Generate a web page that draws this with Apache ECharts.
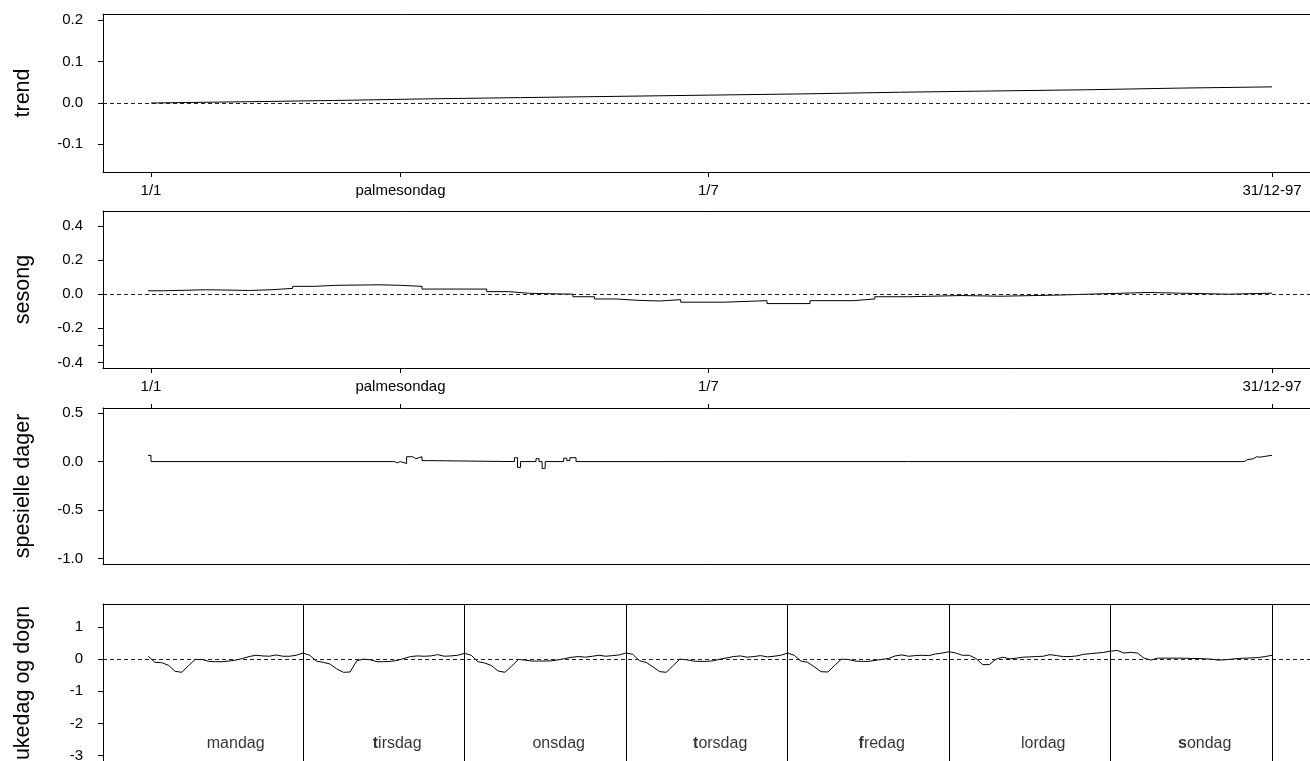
<!DOCTYPE html>
<html><head><meta charset="utf-8">
<script src="https://cdn.jsdelivr.net/npm/echarts@6/dist/echarts.min.js"></script>
<style>html,body{margin:0;padding:0;background:#fff}#c{width:1310px;height:761px}</style>
</head><body><div id="c"></div>
<script>
// ---------- data ----------
const yearTickDays = [1, 82, 182, 365];
const yearTickLabels = ['1/1', 'palmesondag', '1/7', '31/12-97'];

const trendDays   = [1, 32, 60, 91, 121, 152, 182, 213, 244, 274, 305, 335, 365];
const trendValues = [0.000, 0.003, 0.006, 0.010, 0.013, 0.016, 0.019, 0.022, 0.026, 0.029, 0.032, 0.036, 0.039];

const seasonDays   = [0, 5, 19, 33, 40, 47, 54, 61, 75, 82, 89, 110, 117, 124, 138, 145, 152, 159, 166, 173, 187, 201, 215, 229, 236, 247, 264, 277, 296, 309, 325, 335, 351, 365];
const seasonValues = [0.020, 0.026, 0.022, 0.026, 0.034, 0.046, 0.052, 0.055, 0.052, 0.046, 0.030, 0.015, 0.005, 0.000, -0.015, -0.028, -0.036, -0.040, -0.032, -0.047, -0.038, -0.055, -0.038, -0.028, -0.015, -0.008, -0.012, -0.005, 0.002, 0.010, 0.006, 0.000, 0.006, 0.010];

const specialDays   = [0, 1, 80, 81, 82, 84, 86, 87, 89, 91, 119, 120, 121, 126, 127, 128, 129, 135, 136, 137, 139, 355, 356, 357, 359, 360, 361, 362, 363, 364, 365];
const specialValues = [0.064, 0, -0.012, 0, -0.02, 0.05, 0.03, 0.05, 0.01, 0, 0.04, -0.06, 0, 0.03, 0, -0.07, 0, 0.035, 0.01, 0.04, 0, 0, 0.02, 0.03, 0.05, 0.045, 0.05, 0.055, 0.06, 0.065, 0.07];

const weekdayNames = ['mandag', 'tirsdag', 'onsdag', 'torsdag', 'fredag', 'lordag', 'sondag'];
const mondayValues    = [0.09, -0.10, -0.11, -0.19, -0.38, -0.41, -0.20, -0.01, -0.01, -0.07, -0.08, -0.08, -0.06, -0.03, 0.02, 0.08, 0.12, 0.10, 0.09, 0.13, 0.09, 0.09, 0.12, 0.19];
const tuesdayValues   = [0.12, -0.06, -0.10, -0.15, -0.30, -0.41, -0.40, -0.05, 0.00, -0.02, -0.08, -0.08, -0.07, -0.04, 0.02, 0.08, 0.10, 0.09, 0.10, 0.14, 0.09, 0.10, 0.12, 0.18];
const wednesdayValues = [0.12, -0.08, -0.12, -0.20, -0.37, -0.41, -0.22, -0.01, -0.03, -0.06, -0.06, -0.06, -0.05, -0.02, 0.02, 0.06, 0.08, 0.06, 0.09, 0.12, 0.09, 0.11, 0.13, 0.19];
const thursdayValues  = [0.15, -0.05, -0.10, -0.24, -0.39, -0.41, -0.20, 0.00, -0.02, -0.06, -0.07, -0.07, -0.05, 0.00, 0.04, 0.08, 0.10, 0.06, 0.08, 0.11, 0.07, 0.09, 0.12, 0.19];
const fridayValues    = [0.12, -0.06, -0.10, -0.24, -0.39, -0.40, -0.20, 0.00, -0.01, -0.06, -0.07, -0.07, -0.04, -0.01, 0.02, 0.10, 0.13, 0.09, 0.11, 0.12, 0.11, 0.16, 0.19, 0.23];
const saturdayValues  = [0.19, 0.12, 0.12, 0.02, -0.17, -0.17, 0.00, 0.06, 0.01, 0.03, 0.06, 0.07, 0.08, 0.09, 0.14, 0.11, 0.08, 0.08, 0.10, 0.15, 0.17, 0.19, 0.21, 0.25];
const sundayValues    = [0.27, 0.19, 0.21, 0.19, 0.03, -0.03, 0.03, 0.03, 0.03, 0.03, 0.03, 0.02, 0.02, 0.01, 0.00, -0.03, -0.02, 0.00, 0.02, 0.03, 0.04, 0.05, 0.08, 0.12];

const trendTicks   = [-0.1, 0.0, 0.1, 0.2];
const seasonLabels = [-0.4, -0.2, 0.0, 0.2, 0.4];
const seasonTicks  = [-0.4, -0.3, -0.2, 0.0, 0.2, 0.4];
const specialTicks = [-1.0, -0.5, 0.0, 0.5];
const weekTicks    = [-3, -2, -1, 0, 1];

// ---------- build ----------
const FONT = "'Liberation Sans', Arial, Helvetica, sans-serif";
const BLACK = '#000';
const hoursPerDay = 24;
const weekValues = [mondayValues, tuesdayValues, wednesdayValues, thursdayValues, fridayValues, saturdayValues, sundayValues];
const weekData = [];
weekValues.forEach((arr, d) => arr.forEach((v, h) => weekData.push([d * hoursPerDay + h + 1, v])));
const boldFirst = [false, true, false, true, true, false, true];

const zip = (xs, ys) => xs.map((x, i) => [x, ys[i]]);

const grids = [
  {left: 103, width: 1214, top: 14, height: 158},
  {left: 103, width: 1214, top: 211, height: 157},
  {left: 103, width: 1214, top: 408, height: 156},
  {left: 103, width: 1214, top: 604, height: 158}
].map(g => Object.assign(g, {outerBoundsMode: 'none', containLabel: false}));

const yearMin = -14.586, yearMax = 379.6;
const weekMin = -5.72, weekMax = 174.69;

function xBottom(gi, min, max, opts) {
  return Object.assign({
    type: 'value', gridIndex: gi, position: 'bottom', min, max,
    axisLine: {show: true, onZero: false, lineStyle: {color: BLACK, width: 1}},
    axisTick: {show: false},
    axisLabel: {show: false},
    splitLine: {show: false}
  }, opts || {});
}
function xTop(gi, min, max, opts) {
  return Object.assign({
    type: 'value', gridIndex: gi, position: 'top', min, max,
    axisLine: {show: true, onZero: false, lineStyle: {color: BLACK, width: 1}},
    axisTick: {show: false},
    axisLabel: {show: false},
    splitLine: {show: false}
  }, opts || {});
}
const yearTickOpt = {
  axisTick: {show: true, length: 5, inside: false, customValues: yearTickDays, lineStyle: {color: BLACK, width: 1}},
  axisLabel: {
    show: true, customValues: yearTickDays, margin: 11, color: BLACK, fontSize: 15, fontFamily: FONT,
    formatter: v => { const i = yearTickDays.indexOf(v); return i >= 0 ? yearTickLabels[i] : ''; }
  }
};

function yAx(gi, min, max, name, ticks, labels, fmt) {
  return {
    type: 'value', gridIndex: gi, min, max, position: 'left',
    name, nameLocation: 'middle', nameGap: 69,
    nameTextStyle: {fontSize: 21.5, fontFamily: FONT, color: BLACK},
    axisLine: {show: true, onZero: false, lineStyle: {color: BLACK, width: 1}},
    axisTick: {show: true, length: 5, inside: false, customValues: ticks, lineStyle: {color: BLACK, width: 1}},
    axisLabel: {show: true, customValues: labels, margin: 20, color: BLACK, fontSize: 15, fontFamily: FONT, formatter: fmt},
    splitLine: {show: false}
  };
}
const f1 = v => v.toFixed(1);
const f0 = v => String(Math.round(v));

const zeroDash = {
  silent: true, symbol: ['none', 'none'], label: {show: false},
  lineStyle: {color: '#222', width: 1, type: [4, 3]},
  emphasis: {disabled: true},
  data: [{yAxis: 0}]
};
const lineBase = {
  type: 'line', showSymbol: false, symbol: 'none', silent: true, animation: false,
  lineStyle: {color: BLACK, width: 1}, itemStyle: {color: BLACK}, emphasis: {disabled: true}
};

const dayLines = weekdayNames.map((n, i) => ({xAxis: (i + 1) * hoursPerDay}));

const option = {
  animation: false,
  backgroundColor: '#fff',
  textStyle: {fontFamily: FONT},
  grid: grids,
  xAxis: [
    xBottom(0, yearMin, yearMax, yearTickOpt), xTop(0, yearMin, yearMax),
    xBottom(1, yearMin, yearMax, yearTickOpt), xTop(1, yearMin, yearMax),
    xBottom(2, yearMin, yearMax), xTop(2, yearMin, yearMax, {
      axisTick: {show: true, length: 4, inside: false, customValues: yearTickDays, lineStyle: {color: BLACK, width: 1}}
    }),
    xBottom(3, weekMin, weekMax), xTop(3, weekMin, weekMax)
  ],
  yAxis: [
    yAx(0, -0.167, 0.2153, 'trend', trendTicks, trendTicks, f1),
    yAx(1, -0.433, 0.488, 'sesong', seasonTicks, seasonLabels, f1),
    yAx(2, -1.055, 0.552, 'spesielle dager', specialTicks, specialTicks, f1),
    yAx(3, -3.2, 1.715, 'ukedag og dogn', weekTicks, weekTicks, f0)
  ],
  series: [
    Object.assign({}, lineBase, {xAxisIndex: 0, yAxisIndex: 0, data: zip(trendDays, trendValues), markLine: zeroDash}),
    Object.assign({}, lineBase, {xAxisIndex: 2, yAxisIndex: 1, step: 'end', data: zip(seasonDays, seasonValues), markLine: zeroDash}),
    Object.assign({}, lineBase, {xAxisIndex: 4, yAxisIndex: 2, step: 'end', data: zip(specialDays, specialValues)}),
    Object.assign({}, lineBase, {
      xAxisIndex: 6, yAxisIndex: 3, data: weekData,
      markLine: {
        silent: true, symbol: ['none', 'none'], label: {show: false}, emphasis: {disabled: true},
        data: [
          {yAxis: 0, lineStyle: {color: '#222', width: 1, type: [4, 3]}},
          ...dayLines.map(d => Object.assign(d, {lineStyle: {color: BLACK, width: 1, type: 'solid'}}))
        ]
      }
    }),
    {
      type: 'scatter', xAxisIndex: 6, yAxisIndex: 3, silent: true, animation: false,
      symbolSize: 1, itemStyle: {color: 'rgba(0,0,0,0)'},
      label: {
        show: true, position: 'inside', color: BLACK, fontSize: 16, fontFamily: FONT,
        rich: {
          b: {fontWeight: 'bold', fontSize: 16, fontFamily: FONT, color: BLACK},
          r: {fontSize: 16, fontFamily: FONT, color: BLACK}
        }
      },
      data: weekdayNames.map((n, i) => ({
        value: [i * hoursPerDay + 14, -2.63],
        label: {formatter: boldFirst[i] ? ('{b|' + n[0] + '}{r|' + n.slice(1) + '}') : ('{r|' + n + '}')}
      }))
    }
  ]
};

const chart = echarts.init(document.getElementById('c'), null, {renderer: 'canvas'});
chart.setOption(option);
</script>
</body></html>
